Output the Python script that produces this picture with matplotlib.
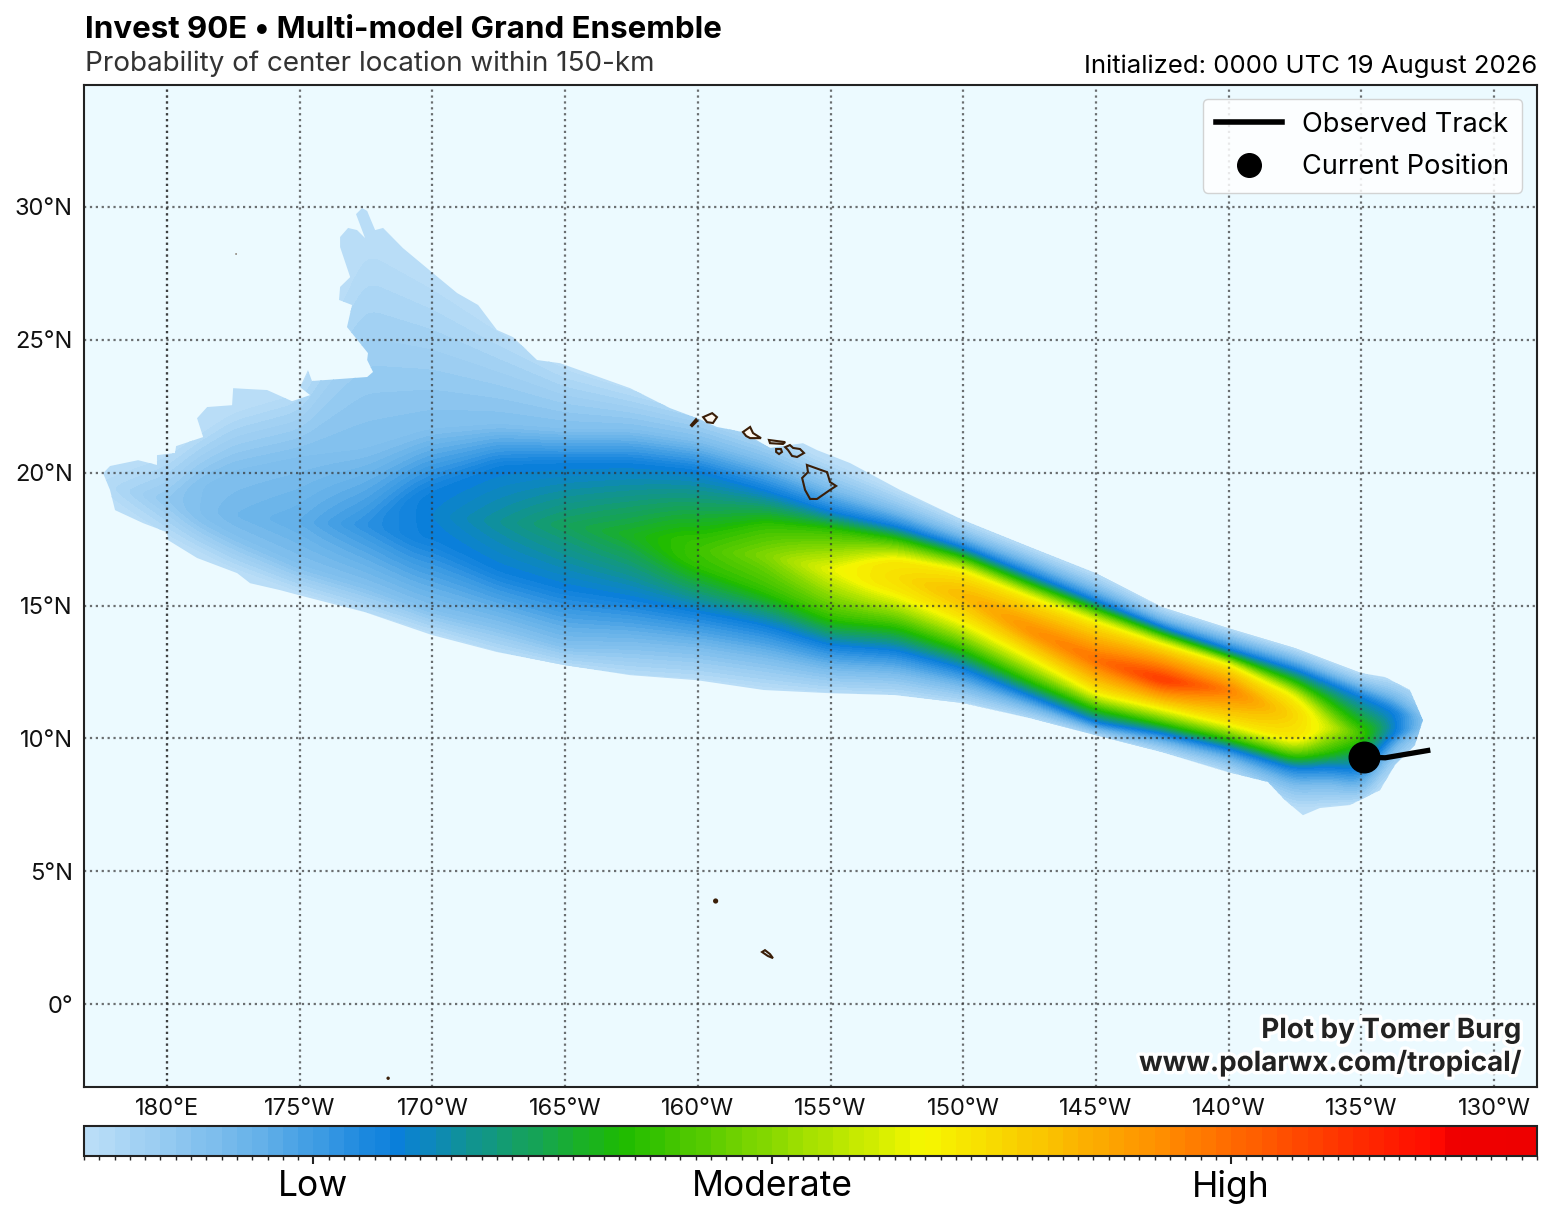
#!/usr/bin/env python3
"""
Multi-model ensemble probability of storm center location, Invest 90E.
"""

import numpy as np
import matplotlib
matplotlib.use("Agg")
import matplotlib.pyplot as plt
import matplotlib.patheffects as pe
from matplotlib.colors import BoundaryNorm, LinearSegmentedColormap, ListedColormap
from matplotlib.lines import Line2D
from matplotlib.patches import Polygon

FONT = "Inter"
plt.rcParams["font.family"] = [FONT, "DejaVu Sans"]

# Edge of the shaded area, longitudes in degrees east of Greenwich
edge_lon = [177.59, 177.85, 178.91, 179.62, 179.62, 180.30, 180.34, 181.36, 181.13, 181.51,
            182.45, 182.49, 183.01, 183.77, 184.71, 185.39, 185.01, 185.31, 185.46, 187.54,
            187.76, 187.54, 187.57, 186.78, 186.97, 186.48, 186.52, 186.90, 186.52, 186.52,
            186.82, 187.16, 187.46, 187.12, 187.35, 187.54, 187.65, 187.84, 188.14, 188.89, 190.02, 190.93,
            191.72, 192.43, 193.04, 193.94, 194.81, 197.45, 198.95, 199.97, 200.72, 201.70,
            202.72, 203.96, 204.49, 205.74, 207.62, 209.99, 212.52, 215.00, 217.49, 219.98,
            222.50, 224.99, 225.89, 226.83, 227.32, 227.02, 226.27, 225.70, 224.57, 223.44,
            222.80, 222.12, 221.48, 219.98, 217.49, 215.00, 212.52, 209.99, 207.43, 204.98,
            202.49, 199.97, 197.45, 194.96, 192.43, 189.98, 187.46, 184.97, 184.26, 183.13,
            182.64, 181.13, 180.04, 180.00, 179.10, 178.04, 177.85]
edge_lat = [19.98, 20.25, 20.47, 20.29, 20.66, 20.74, 21.00, 21.34, 22.05, 22.47,
            22.54, 23.18, 23.15, 23.11, 22.69, 22.92, 23.22, 23.86, 23.45, 23.60,
            23.79, 24.24, 24.50, 25.48, 26.31, 26.50, 26.99, 27.36, 28.49, 28.87,
            29.21, 29.13, 28.83, 29.73, 29.96, 29.85, 29.58, 29.13, 29.21, 28.45, 27.51, 26.76,
            26.31, 25.37, 25.10, 24.24, 24.12, 23.18, 22.43, 22.05, 21.72, 21.53,
            20.93, 21.11, 20.85, 20.36, 19.35, 18.22, 17.20, 16.22, 14.94, 14.15,
            13.40, 12.46, 12.31, 11.82, 10.69, 9.75, 9.00, 8.05, 7.49, 7.38,
            7.11, 7.68, 8.36, 8.73, 9.48, 10.12, 10.76, 11.33, 11.63, 11.70,
            11.82, 12.19, 12.38, 12.76, 13.25, 13.89, 14.75, 15.39, 15.58, 15.84,
            16.22, 16.79, 17.46, 17.76, 18.10, 18.59, 19.35]

# Cross sections of the field: peak value, where it sits, and where the
# value passes 0, 8, 20, 37 and 57 north and south of it
sect_lon = [177.5, 180.0, 182.5, 185.0, 187.5, 190.0, 192.5, 195.0, 197.5, 200.0, 202.5,
            205.0, 207.5, 210.0, 212.5, 215.0, 217.5, 220.0, 222.5, 223.75, 225.0, 226.25, 227.5]
peak = [1, 6, 10, 12, 17, 21, 25, 29, 33, 38, 44, 54, 59, 65, 71, 75, 83, 73, 60, 52, 38, 21, 5]
ridge = [19.53, 18.97, 18.41, 18.14, 18.03, 18.41, 18.14, 18.03, 17.65, 17.09, 16.90,
         16.34, 16.07, 15.39, 14.08, 12.95, 12.20, 11.82, 10.80, 10.43, 10.13, 10.58, 10.61]
north0 = [20.10, 20.85, 22.54, 23.30, 29.32, 27.63, 25.75, 24.17, 23.30, 22.54, 21.61,
          20.48, 19.35, 18.22, 17.20, 16.22, 14.94, 14.15, 13.40, 12.95, 12.46, 12.27, 11.82]
north8 = [19.53, 18.97, 20.10, 20.60, 20.85, 21.61, 21.79, 21.61, 21.61, 21.23, 20.48,
          19.42, 18.59, 17.65, 16.71, 15.66, 14.53, 13.78, 13.02, 12.50, 12.01, 11.63, 10.61]
north20 = [19.53, 18.97, 18.41, 18.14, 18.03, 19.35, 20.29, 20.36, 20.36, 20.10, 19.35,
           18.52, 17.95, 17.16, 16.15, 15.13, 14.15, 13.32, 12.57, 12.08, 11.56, 11.00, 10.61]
north37 = [19.53, 18.97, 18.41, 18.14, 18.03, 18.41, 18.14, 18.03, 17.65, 17.46, 18.03,
           17.84, 17.46, 16.79, 15.77, 14.83, 13.89, 13.06, 12.08, 11.33, 10.31, 10.58, 10.61]
north57 = [19.53, 18.97, 18.41, 18.14, 18.03, 18.41, 18.14, 18.03, 17.65, 17.09, 16.90,
           16.34, 16.71, 16.26, 15.28, 14.34, 13.51, 12.76, 11.52, 10.43, 10.13, 10.58, 10.61]
south57 = [19.53, 18.97, 18.41, 18.14, 18.03, 18.41, 18.14, 18.03, 17.65, 17.09, 16.90,
           16.34, 15.51, 14.45, 13.14, 11.74, 11.18, 10.58, 9.94, 10.43, 10.13, 10.58, 10.61]
south37 = [19.53, 18.97, 18.41, 18.14, 18.03, 18.41, 18.14, 18.03, 17.65, 16.52, 15.58,
           14.53, 14.27, 13.40, 12.20, 11.14, 10.58, 10.01, 9.30, 9.49, 9.94, 10.58, 10.61]
south20 = [19.53, 18.97, 18.41, 18.14, 18.03, 17.46, 16.26, 15.58, 15.21, 14.75, 14.27,
           13.51, 13.32, 12.65, 11.63, 10.61, 10.20, 9.64, 8.88, 8.92, 8.81, 10.10, 10.61]
south8 = [19.53, 18.97, 17.65, 16.52, 15.77, 14.83, 14.27, 13.51, 13.51, 13.32, 12.95,
          12.50, 12.38, 11.89, 11.14, 10.31, 9.82, 9.18, 8.17, 8.24, 8.05, 9.75, 10.61]
south0 = [18.97, 17.46, 16.26, 15.39, 14.64, 13.89, 13.14, 12.65, 12.27, 12.12, 11.82,
          11.63, 11.56, 11.25, 10.69, 10.05, 9.41, 8.66, 7.30, 7.38, 7.49, 8.54, 9.56]

# Observed track, last point is the current position
track_lon = [227.6, 225.9, 225.1]
track_lat = [9.56, 9.27, 9.30]

# Islands
islands = [
    ([204.11, 204.87, 204.98, 205.21, 204.98, 204.49, 204.23, 204.04, 203.93, 204.15],
     [20.29, 20.02, 19.65, 19.50, 19.35, 19.01, 19.01, 19.35, 19.80, 20.02]),
    ([203.29, 203.47, 203.59, 203.85, 204.00, 203.74, 203.55, 203.40],
     [20.96, 21.04, 20.93, 20.89, 20.74, 20.59, 20.63, 20.85]),
    ([202.95, 203.13, 203.17, 203.06, 202.95], [20.89, 20.89, 20.78, 20.70, 20.78]),
    ([202.68, 203.29, 203.21, 202.72], [21.23, 21.15, 21.08, 21.11]),
    ([201.70, 201.97, 202.08, 202.38, 201.97, 201.82], [21.53, 21.72, 21.49, 21.30, 21.30, 21.38]),
    ([200.20, 200.54, 200.72, 200.57, 200.35], [22.09, 22.24, 22.09, 21.87, 21.90]),
    ([199.74, 199.93, 199.97, 199.78], [21.79, 22.01, 21.94, 21.75]),
    ([202.42, 202.53, 202.72, 202.83, 202.64], [1.96, 2.03, 1.88, 1.73, 1.81]),
]
islet_lon = [200.67, 188.33, 182.60]
islet_lat = [3.88, -2.79, 28.23]
islet_size = [14, 6, 1]

lon_ticks = [180, 185, 190, 195, 200, 205, 210, 215, 220, 225, 230]
lon_labels = ["180°E", "175°W", "170°W", "165°W", "160°W", "155°W",
              "150°W", "145°W", "140°W", "135°W", "130°W"]
lat_ticks = [0, 5, 10, 15, 20, 25, 30]
lat_labels = ["0°", "5°N", "10°N", "15°N", "20°N", "25°N", "30°N"]

color_pos = [0, 10, 20, 35, 55, 63, 71, 81, 89, 90, 95]
color_val = ["#B9DDF7", "#6DB5EA", "#0A7FDC", "#1DBB00", "#F6F700", "#FAC400", "#FF8C00",
             "#FF4000", "#FF0800", "#F00000", "#EE0000"]
band_ticks = [15, 45, 75]
band_labels = ["Low", "Moderate", "High"]

levels = np.arange(0, 96)

W, H = 1552, 1219
fig = plt.figure(figsize=(W / 100, H / 100), dpi=100)
ax = fig.add_axes([84 / W, 1 - 1087 / H, 1453 / W, 1002 / H], facecolor="#ECFAFF")
cax = fig.add_axes([84 / W, 1 - 1156 / H, 1453 / W, 30 / H])

# Build the field column by column from the cross sections
grid_lon = np.arange(176.5, 232.0, 0.1)
grid_lat = np.arange(-3.5, 35.0, 0.05)
marks = [0, 8, 20, 37, 57]
north = [north0, north8, north20, north37, north57]
south = [south0, south8, south20, south37, south57]
field = np.zeros((len(grid_lat), len(grid_lon)))
for j, lon in enumerate(grid_lon):
    top = np.interp(lon, sect_lon, peak)
    mid = np.interp(lon, sect_lon, ridge)
    xs = [np.interp(lon, sect_lon, s) for s in south] + [mid]
    vs = [min(m, top) for m in marks] + [top]
    for m, n in zip(marks[::-1], north[::-1]):
        xs.append(np.interp(lon, sect_lon, n))
        vs.append(min(m, top))
    xs = np.maximum.accumulate(xs)
    field[:, j] = np.interp(grid_lat, xs, vs, left=0, right=0)

# Take the corners off where the sections join
kernel = np.bartlett(15) / np.bartlett(15).sum()
field = np.apply_along_axis(np.convolve, 1, field, kernel, mode="same")
kernel = np.bartlett(7) / np.bartlett(7).sum()
field = np.apply_along_axis(np.convolve, 0, field, kernel, mode="same")

ramp = LinearSegmentedColormap.from_list(
    "prob", [(p / 95, c) for p, c in zip(color_pos, color_val)])
cmap = ListedColormap(ramp(np.linspace(0, 1, 95)))
norm = BoundaryNorm(levels, cmap.N)

cf = ax.contourf(grid_lon, grid_lat, field, levels=levels, cmap=cmap, norm=norm, zorder=2)
clip = Polygon(np.column_stack([edge_lon, edge_lat]), closed=True, transform=ax.transData,
               facecolor="none", edgecolor="none")
ax.add_patch(clip)
cf.set_clip_path(clip)

for i, (lon, lat) in enumerate(islands):
    ax.add_patch(Polygon(np.column_stack([lon, lat]), closed=True,
                         facecolor="#FDF8F0" if i in (4, 5) else "none",
                         edgecolor="#3A1E08", linewidth=1.5, zorder=3))
ax.scatter(islet_lon, islet_lat, s=islet_size, color="#3A1E08", linewidths=0, zorder=3)

ax.set_xlim(176.87, 231.62)
ax.set_ylim(-3.12, 34.59)
ax.set_xticks(lon_ticks, lon_labels)
ax.set_yticks(lat_ticks, lat_labels)
ax.tick_params(length=0, labelsize=17, pad=8, colors="#111111")
ax.grid(color="#333333", alpha=0.7, linestyle=":", linewidth=1.6, zorder=4)
ax.axvline(180, color="#222222", alpha=0.6, linestyle=":", linewidth=1.6, zorder=4)
ax.set_axisbelow(False)
for s in ax.spines.values():
    s.set_color("#222222")
    s.set_linewidth(1.5)
    s.set_zorder(8)

ax.plot(track_lon, track_lat, color="black", linewidth=3.8, solid_capstyle="butt", zorder=6)
ax.plot(track_lon[-1], track_lat[-1], "o", color="black", markersize=22, zorder=7)

handles = [Line2D([], [], color="black", linewidth=4, label="Observed Track"),
           Line2D([], [], color="black", marker="o", linestyle="none", markersize=17,
                  label="Current Position")]
leg = ax.legend(handles=handles, loc="upper right", fontsize=19.5, framealpha=0.85,
                bbox_to_anchor=(0.9897, 0.986), borderaxespad=0, labelspacing=0.6,
                handlelength=2.45, handletextpad=0.75, borderpad=0.47)
leg.set_zorder(9)

halo = [pe.withStroke(linewidth=5, foreground="white")]
for txt, y in (("Plot by Tomer Burg", 0.0489), ("www.polarwx.com/tropical/", 0.016)):
    ax.text(0.9897, y, txt, transform=ax.transAxes, ha="right", va="baseline", fontsize=20,
            fontweight="bold", color="#222222", path_effects=halo, zorder=10)

fig.text(85 / W, 1 - 38 / H, "Invest 90E • Multi-model Grand Ensemble", fontsize=22.5,
         fontweight="bold", color="black", va="baseline")
fig.text(85 / W, 1 - 71 / H, "Probability of center location within 150-km", fontsize=20,
         color="#333333", va="baseline")
fig.text(1537 / W, 1 - 73 / H, "Initialized: 0000 UTC 19 August 2026", fontsize=18.5,
         color="black", ha="right", va="baseline")

cb = fig.colorbar(cf, cax=cax, orientation="horizontal", spacing="proportional")
cb.set_ticks(band_ticks, labels=band_labels)
cb.ax.set_xticks(levels, minor=True)
cb.ax.tick_params(which="major", length=6, width=1.5, labelsize=25.5, pad=4, color="#222222")
cb.ax.tick_params(which="minor", length=3, width=1, color="#222222")
cb.outline.set_edgecolor("#222222")
cb.outline.set_linewidth(1.5)

plt.savefig("out.png", dpi=100)
